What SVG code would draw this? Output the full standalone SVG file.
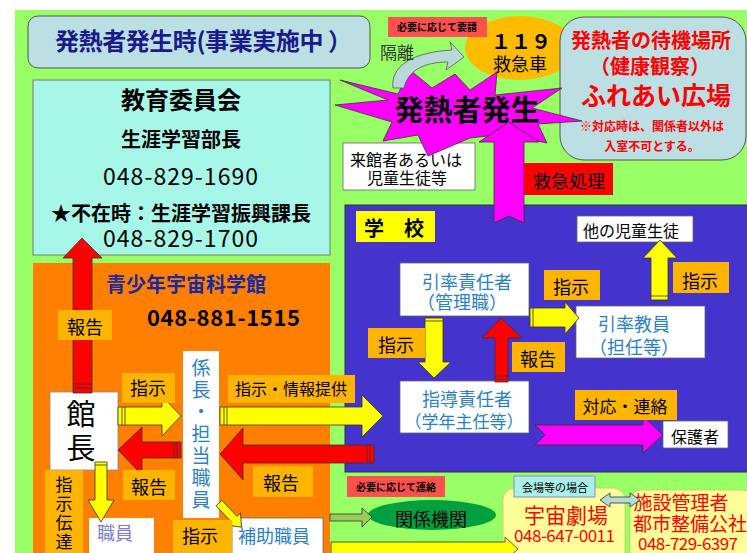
<svg xmlns="http://www.w3.org/2000/svg" width="747" height="553" viewBox="0 0 747 553">
<style>
text{font-family:"Noto Sans CJK JP","Noto Sans",sans-serif;}
.b{font-weight:bold;}
.lbl{fill:#ffb400;}
.wbox{fill:#ffffff;stroke:#666;stroke-width:0.8;}
.blue{fill:#2a7fc8;}
.red{fill:#ff0000;}
.ya{fill:#ffff00;stroke:#333;stroke-width:0.8;}
.ra{fill:#ff0000;stroke:#333;stroke-width:0.8;}
.ma{fill:#ff00ff;stroke:#333;stroke-width:0.8;}
.stripe{stroke:#333;stroke-width:0.8;fill:none;}
.c{text-anchor:middle;}
.v{writing-mode:vertical-rl;}
</style>
<rect x="0" y="0" width="747" height="553" fill="#ffffff"/>
<rect x="15" y="10" width="732" height="543" fill="#99ff66"/>

<g id="title">
<rect x="28" y="16" width="342" height="52" rx="10" fill="#bcdfe3" stroke="#555" stroke-width="1"/>
<text x="55" y="50" font-size="24" class="b" fill="#1a1a8c" textLength="297">発熱者発生時(事業実施中 ）</text>
</g>

<g id="board">
<rect x="33" y="80" width="297" height="175" fill="#a6f7e8" stroke="#777" stroke-width="1"/>
<text x="181" y="109" font-size="24" class="b c">教育委員会</text>
<text x="181" y="147" font-size="20" class="b c">生涯学習部長</text>
<text x="103" y="185" font-size="23" textLength="155">048-829-1690</text>
<text x="181" y="221" font-size="20" class="b c">★不在時：生涯学習振興課長</text>
<text x="103" y="247" font-size="23" textLength="155">048-829-1700</text>
</g>

<g id="museum">
<rect x="33" y="263" width="297" height="295" fill="#ff8000"/>
<text x="106" y="292" font-size="20" class="b" fill="#1a2a9c">青少年宇宙科学館</text>
<text x="147" y="326" font-size="22" class="b" textLength="153">048-881-1515</text>
</g>

<g id="school">
<rect x="345" y="205" width="410" height="267" fill="#4433cc" stroke="#333" stroke-width="1"/>
<rect x="356" y="211" width="79" height="31" fill="#ffff00"/>
<text x="364" y="236" font-size="20" class="b">学　校</text>
</g>

<g id="kancho">
<rect x="50" y="392" width="68" height="78" fill="#ffffff" stroke="#888" stroke-width="0.8"/>
<text x="81" y="399" font-size="29" class="v" letter-spacing="5">館長</text>
</g>

<g id="kakaricho">
<rect x="183" y="351" width="36" height="167" fill="#ffffff"/>
<text x="201" y="358" font-size="19" class="v blue" letter-spacing="3">係長・担当職員</text>
</g>

<g id="shokuin">
<rect x="89" y="518" width="65" height="40" fill="#ffffff"/>
<text x="97" y="540" font-size="18" fill="#7b7bd6">職員</text>
</g>

<g id="hojo">
<rect x="232" y="518" width="91" height="40" fill="#ffffff" stroke="#666" stroke-width="0.8"/>
<text x="238" y="543" font-size="18" class="blue">補助職員</text>
</g>

<g id="patient-star">
<rect x="343" y="143" width="132" height="47" class="wbox"/>
<text x="350" y="166" font-size="16">来館者あるいは</text>
<text x="367" y="184" font-size="16">児童生徒等</text>
</g>

<g id="ambulance">
<ellipse cx="520" cy="48" rx="55" ry="32" fill="#ffbb00"/>
<text x="521" y="49" font-size="20" class="b c">１１９</text>
<text x="520" y="71" font-size="18" class="c">救急車</text>
</g>

<g id="waiting">
<rect x="560" y="17" width="186" height="143" rx="24" fill="#bcdfe3" stroke="#555" stroke-width="1"/>
<text x="651" y="48" font-size="20" class="b c red">発熱者の待機場所</text>
<text x="650" y="74" font-size="20" class="b c red">（健康観察）</text>
<text x="656" y="105" font-size="25" class="b c red">ふれあい広場</text>
<text x="652" y="131" font-size="12" class="b c red">※対応時は、関係者以外は</text>
<text x="652" y="151" font-size="12" class="b c red">入室不可とする。</text>
</g>

<g id="outbreak">
<polygon points="340,80 398,94 410,70 432,88 455,74 470,90 497,72 495,95 562,88 532,108 582,121 538,124 547,143 505,134 470,138 428,156 418,135 383,141 392,122 335,105 388,100" fill="#ff00ff" stroke="#333" stroke-width="0.8"/>
<text x="467" y="121" font-size="29" class="b c">発熱者発生</text>
</g>

<g id="teacher-lead">
<rect x="400" y="263" width="129" height="53" class="wbox"/>
<text x="467" y="289" font-size="18" class="c blue">引率責任者</text>
<text x="462" y="309" font-size="18" class="c blue">（管理職）</text>
</g>

<g id="teacher">
<rect x="576" y="306" width="129" height="52" class="wbox"/>
<text x="634" y="331" font-size="18" class="c blue">引率教員</text>
<text x="634" y="354" font-size="18" class="c blue">（担任等）</text>
</g>

<g id="guide-lead">
<rect x="400" y="381" width="129" height="52" class="wbox"/>
<text x="467" y="406" font-size="18" class="c blue">指導責任者</text>
<text x="464" y="428" font-size="17" class="c blue">（学年主任等）</text>
</g>

<g id="other-students">
<rect x="577" y="216" width="116" height="26" class="wbox"/>
<text x="583" y="237" font-size="16">他の児童生徒</text>
</g>

<g id="guardian">
<rect x="663" y="421" width="65" height="27" class="wbox"/>
<text x="695" y="443" font-size="16" class="c">保護者</text>
</g>

<g id="agencies">
<ellipse cx="432" cy="515" rx="64" ry="15" fill="#00a040"/>
<text x="431" y="526" font-size="18" class="c">関係機関</text>
</g>

<g id="theater">
<rect x="503" y="488" width="122" height="75" rx="12" fill="#ffff99" stroke="#cccc66" stroke-width="0.8"/>
<text x="566" y="523" font-size="21" class="c red">宇宙劇場</text>
<text x="514" y="542" font-size="17" class="red" textLength="101">048-647-0011</text>
<rect x="514" y="476" width="81" height="21" fill="#aaf0e8" stroke="#8888cc" stroke-width="1"/>
<text x="555" y="492" font-size="11" class="c">会場等の場合</text>
</g>

<g id="facility">
<rect x="630" y="490" width="125" height="73" rx="12" fill="#ffff99" stroke="#cccc66" stroke-width="0.8"/>
<text x="681" y="510" font-size="19" class="c red">施設管理者</text>
<text x="690" y="531" font-size="19" class="c red">都市整備公社</text>
<text x="638" y="550" font-size="17" class="red" textLength="100">048-729-6397</text>
</g>

<g id="connectors">
<path d="M393,88 C390,65 415,52 452,50 L450,42 L464,57 L446,70 L448,62 C425,62 408,70 404,88 Z" fill="#b9d9d9" stroke="#555" stroke-width="0.8"/>
<rect x="388" y="17" width="99" height="20" fill="#ff5050"/>
<text x="437" y="31" font-size="10" class="b c">必要に応じて要請</text>
<text x="380" y="59" font-size="17" fill="#333">隔離</text>

<polygon points="494,223 494,142 479,142 509,122 539,142 524,142 524,223 509,216" class="ma"/>
<rect x="524" y="163" width="89" height="32" fill="#ff0000"/>
<text x="569" y="188" font-size="18" class="c">救急処理</text>

<polygon points="73,393 73,258 63,258 82,238 102,258 92,258 92,393" class="ra"/>
<line x1="73" y1="384" x2="92" y2="384" class="stripe"/>
<line x1="73" y1="388" x2="92" y2="388" class="stripe"/>
<rect x="58" y="310" width="54" height="30" class="lbl"/>
<text x="85" y="334" font-size="18" class="c">報告</text>

<polygon points="118,407 162,407 162,396 181,416 162,436 162,425 118,425" class="ya"/>
<line x1="122" y1="407" x2="122" y2="425" class="stripe"/>
<line x1="125" y1="407" x2="125" y2="425" class="stripe"/>
<rect x="122" y="373" width="53" height="30" class="lbl"/>
<text x="148" y="395" font-size="18" class="c">指示</text>

<polygon points="181,442 142,442 142,427 118,450 142,475 142,458 181,458" class="ra"/>
<line x1="174" y1="442" x2="174" y2="458" class="stripe"/>
<line x1="177" y1="442" x2="177" y2="458" class="stripe"/>
<rect x="123" y="470" width="52" height="30" class="lbl"/>
<text x="149" y="494" font-size="18" class="c">報告</text>

<polygon points="95,462 107,462 107,500 114,500 101,522 88,500 95,500" class="ya"/>
<line x1="95" y1="465" x2="107" y2="465" class="stripe"/>
<rect x="45" y="470" width="38" height="88" class="lbl"/>
<text x="64" y="476" font-size="17" class="v" letter-spacing="2">指示伝達</text>

<polygon points="0,-4 22,-4 22,-9 33,0 22,9 22,4 0,4" class="ya" transform="translate(219,503) rotate(47)"/>
<rect x="173" y="520" width="59" height="38" class="lbl"/>
<text x="200" y="543" font-size="18" class="c">指示</text>

<polygon points="220,407 362,407 362,395 383,416 362,437 362,425 220,425" class="ya"/>
<line x1="224" y1="407" x2="224" y2="425" class="stripe"/>
<line x1="227" y1="407" x2="227" y2="425" class="stripe"/>
<rect x="228" y="375" width="127" height="28" class="lbl"/>
<text x="291" y="395" font-size="16" class="c">指示・情報提供</text>

<polygon points="374,445 243,445 243,428 220,454 243,480 243,463 374,463" class="ra"/>
<line x1="367" y1="445" x2="367" y2="463" class="stripe"/>
<line x1="370" y1="445" x2="370" y2="463" class="stripe"/>
<rect x="253" y="466" width="60" height="31" class="lbl"/>
<text x="281" y="490" font-size="18" class="c">報告</text>

<polygon points="651,300 651,258 643,258 660,240 677,258 668,258 668,300" class="ya"/>
<line x1="651" y1="296" x2="668" y2="296" class="stripe"/>
<rect x="673" y="262" width="56" height="31" class="lbl"/>
<text x="700" y="288" font-size="18" class="c">指示</text>

<polygon points="530,308 565,308 565,302 579,318 565,334 565,327 530,327" class="ya"/>
<line x1="533" y1="308" x2="533" y2="327" class="stripe"/>
<rect x="544" y="270" width="56" height="30" class="lbl"/>
<text x="571" y="294" font-size="18" class="c">指示</text>

<polygon points="425,318 443,318 443,362 451,362 434,378 418,362 425,362" class="ya"/>
<line x1="425" y1="321" x2="443" y2="321" class="stripe"/>
<rect x="368" y="328" width="57" height="30" class="lbl"/>
<text x="396" y="352" font-size="18" class="c">指示</text>

<polygon points="495,382 495,338 482,338 501,318 522,338 508,338 508,382" class="ra"/>
<line x1="495" y1="376" x2="508" y2="376" class="stripe"/>
<line x1="495" y1="379" x2="508" y2="379" class="stripe"/>
<rect x="512" y="342" width="53" height="30" class="lbl"/>
<text x="538" y="366" font-size="18" class="c">報告</text>

<polygon points="535,425 643,425 643,416 663,435 643,453 643,445 535,445 545,435" class="ma"/>
<rect x="575" y="390" width="102" height="30" class="lbl"/>
<text x="625" y="413" font-size="17" class="c">対応・連絡</text>

<rect x="347" y="476" width="98" height="21" fill="#ff5050"/>
<text x="396" y="491" font-size="10" class="b c">必要に応じて連絡</text>
<polygon points="330,514 362,514 362,508 372,517 362,527 362,521 330,521" fill="#99cc55" stroke="#333" stroke-width="0.8"/>

<polygon points="331,542 505,542 505,537 518,549 505,561 505,556 331,556" class="ya"/>

<polygon points="600,500 610,493 610,497 630,497 630,493 640,500 630,507 630,503 610,503 610,507" fill="#b9d9d9" stroke="#333" stroke-width="0.8"/>
</g>
</svg>
